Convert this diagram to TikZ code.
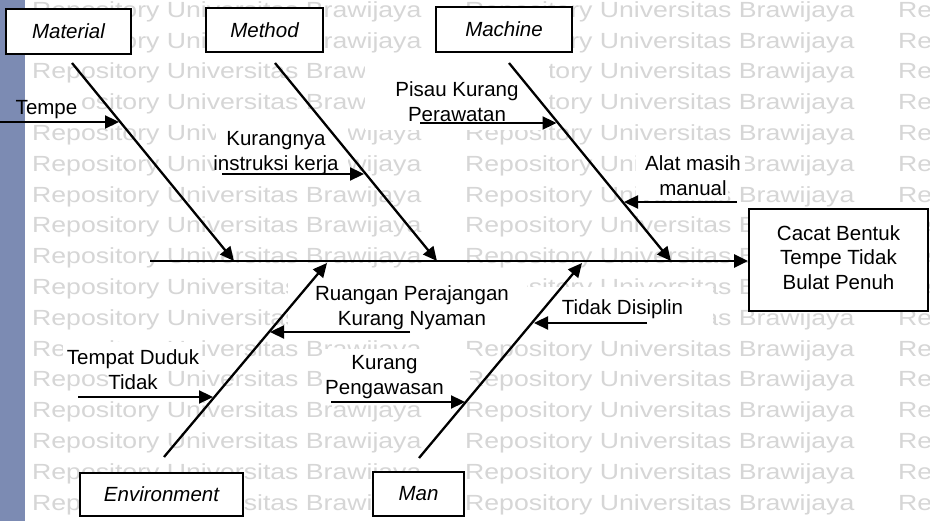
\documentclass[tikz,border=0pt]{standalone}
\usepackage{fontspec}
\setmainfont{Liberation Sans}
\usetikzlibrary{arrows.meta}

\definecolor{wmgray}{RGB}{214,214,214}
\definecolor{edgebar}{RGB}{124,139,179}

\newcommand\wmtext{Repository Universitas Brawijaya}

\begin{document}
\begin{tikzpicture}[x=1pt,y=-1pt,
  catbox/.style={draw=black, line width=1.8pt, fill=white, inner sep=0pt,
    font=\fontsize{20.5}{24.5}\selectfont\itshape},
  effectbox/.style={draw=black, line width=1.8pt, fill=white, inner sep=0pt, align=center,
    font=\fontsize{20.5}{24.5}\selectfont},
  lbl/.style={inner sep=0pt, align=center, font=\fontsize{20.5}{24.5}\selectfont},
  bone/.style={line width=2.3pt, -{Triangle[length=14pt,width=13pt]}},
  cause/.style={line width=2.3pt, -{Triangle[length=14pt,width=13pt]}},
  wm/.style={inner sep=0pt, anchor=base west, text=wmgray,
    font=\fontsize{21.9}{26}\selectfont},
  patch/.style={fill=white}
]
\useasboundingbox (0,0) rectangle (930,521);
\fill[white] (0,0) rectangle (930,521);

% repository watermark rows
\begin{scope}
  \clip (0,0) rectangle (930,521);
  \foreach \k in {0,...,16}{
    \foreach \xx in {32,465,898}{
      \node[wm, name=wm-\k-\xx] at (\xx,{17.35+30.8*\k}) {\scalebox{1.216}[1]{\wmtext}};
    }
  }
\end{scope}

% page edge bar
\fill[edgebar] (0,0) rectangle (25,521);

% white text-box backgrounds
\fill[patch] (26,90) rectangle (80,116);
\fill[patch] (365,58) rectangle (549,130);
\fill[patch] (216,124) rectangle (348,180);
\fill[patch] (636,150) rectangle (745,176);
\fill[patch] (636,176) rectangle (728,200);
\fill[patch] (288,268) rectangle (527,336);
\fill[patch] (527,287) rectangle (713,336);
\fill[patch] (63,342) rectangle (202,367);
\fill[patch] (110,367) rectangle (160,392);
\fill[patch] (322,349) rectangle (470,395);

% category boxes
\node[catbox, minimum width=125pt, minimum height=45pt] (material) at (68.5,31.5) {Material};
\node[catbox, minimum width=117pt, minimum height=44pt] (method) at (264.5,30) {Method};
\node[catbox, minimum width=136pt, minimum height=45pt] (machine) at (504,29.5) {Machine};
\node[catbox, minimum width=163pt, minimum height=43pt] (environment) at (161.5,494.5) {Environment};
\node[catbox, minimum width=91pt, minimum height=44pt] (man) at (418.5,494) {Man};

% effect box
\node[effectbox, minimum width=179pt, minimum height=102pt] (result) at (838.5,260)
  {Cacat Bentuk\strut\\Tempe Tidak\strut\\Bulat Penuh\strut};

% spine
\coordinate (tail) at (150,261);
\draw[bone] (tail) -- (tail -| result.west);

% main bones
\coordinate (matS) at (72,63);   \coordinate (matE) at (234,261);
\coordinate (metS) at (275,63);  \coordinate (metE) at (437,261);
\coordinate (macS) at (509,63);  \coordinate (macE) at (671,261);
\coordinate (envS) at (164,457); \coordinate (envE) at (327,263);
\coordinate (manS) at (419,458); \coordinate (manE) at (582,263);
\draw[bone] (matS) -- (matE);
\draw[bone] (metS) -- (metE);
\draw[bone] (macS) -- (macE);
\draw[bone] (envS) -- (envE);
\draw[bone] (manS) -- (manE);

% cause arrows
\coordinate (c1s) at (0,122);   \coordinate (c1e) at (119,122);
\coordinate (c2s) at (222,174); \coordinate (c2e) at (364,174);
\coordinate (c3s) at (420,123); \coordinate (c3e) at (556.5,123);
\coordinate (c4s) at (737,202); \coordinate (c4e) at (624,202);
\coordinate (c5s) at (410,332); \coordinate (c5e) at (270,332);
\coordinate (c6s) at (647,323); \coordinate (c6e) at (534,323);
\coordinate (c7s) at (78,397);  \coordinate (c7e) at (213,397);
\coordinate (c8s) at (331,402); \coordinate (c8e) at (465,402);
\draw[cause] (c1s) -- (c1e);
\draw[cause] (c2s) -- (c2e);
\draw[cause] (c3s) -- (c3e);
\draw[cause] (c4s) -- (c4e);
\draw[cause] (c5s) -- (c5e);
\draw[cause] (c6s) -- (c6e);
\draw[cause] (c7s) -- (c7e);
\draw[cause] (c8s) -- (c8e);

% cause labels
\node[lbl] (tempe) at (46.5,109.5) {Tempe\strut};
\node[lbl] (instruksi) at (276,153) {Kurangnya\strut\\instruksi kerja\strut};
\node[lbl] (pisau) at (457,104) {Pisau Kurang\strut\\Perawatan\strut};
\node[lbl] (alat) at (693,178) {Alat masih\strut\\manual\strut};
\node[lbl] (ruangan) at (412,308) {Ruangan Perajangan\strut\\Kurang Nyaman\strut};
\node[lbl] (disiplin) at (622.5,309.5) {Tidak Disiplin\strut};
\node[lbl] (tempat) at (133,372) {Tempat Duduk\strut\\Tidak\strut};
\node[lbl] (pengawasan) at (384.5,377) {Kurang\strut\\Pengawasan\strut};
\end{tikzpicture}
\end{document}
